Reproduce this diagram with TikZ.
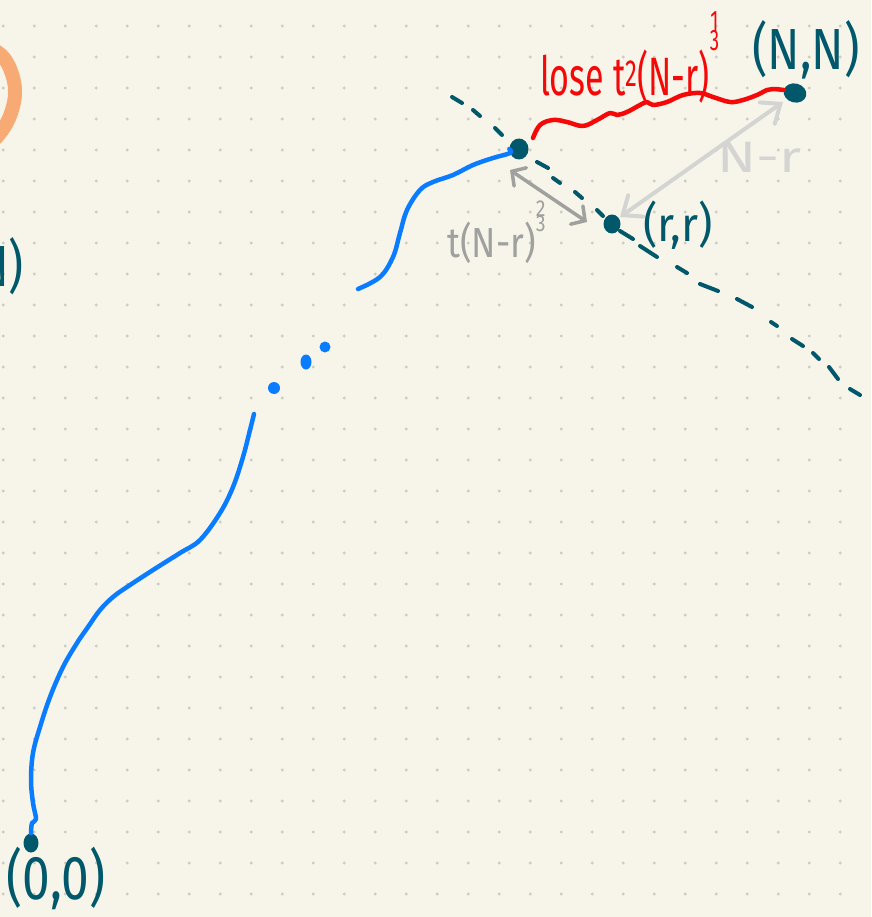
\documentclass[tikz,border=0pt]{standalone}
\usepackage{fontspec}
\setmainfont{Fira Sans}
\usetikzlibrary{arrows.meta,calc,shapes.geometric}
\definecolor{bgc}{RGB}{247,245,233}
\definecolor{gridc}{RGB}{204,203,196}
\definecolor{teal}{RGB}{0,88,106}
\definecolor{pblue}{RGB}{10,124,255}
\definecolor{pred}{RGB}{245,8,8}
\definecolor{lgray}{RGB}{212,212,210}
\definecolor{mgray}{RGB}{160,160,158}
\definecolor{porange}{RGB}{247,170,115}
\newcommand{\expstack}[3]{\raisebox{#1}{\scalebox{0.55}{\shortstack[c]{#2\\[-0.1em]#3}}}}
\tikzset{
  dotnode/.style={ellipse, fill=teal, inner sep=0pt},
  bluepath/.style={pblue, line width=4.5pt, line cap=round, line join=round},
  dashseg/.style={teal, line width=4pt, line cap=round},
  lbl/.style={inner sep=0pt, text=teal},
}
\begin{document}
\begin{tikzpicture}[x=1pt,y=-1pt]
\fill[bgc] (0,0) rectangle (871,917);
\useasboundingbox (0,0) rectangle (871,917);
\clip (0,0) rectangle (871,917);
% dot grid
\foreach \i in {0,...,27}{
  \foreach \j in {0,...,28}{
    \fill[gridc] (3.3+31*\i,26+31*\j) circle[radius=1.6pt];
  }
}
% orange fragment
\draw[porange, line width=14pt, line cap=round] plot[smooth, tension=0.7] coordinates {(-6,50) (4,58) (12,74) (15,92) (12,110) (5,126) (-4,138)};
% left text fragment
\node[lbl, anchor=east, font=\fontsize{58}{62}\selectfont, xscale=0.8] (frag) at (24,266) {N)};
% dashed diagonal
\foreach \a/\b in {{452,97}/{462,103},{473,110}/{480,116},{495,128}/{502,135},{537,162}/{548,168},{553,178}/{560,183},{575,192}/{582,198},{597,210}/{603,216},{620,231}/{633,239},{640,246}/{657,257},{677,267}/{687,273},{700,284}/{718,291},{737,299}/{752,307},{771,322}/{777,326},{792,339}/{803,346},{813,353}/{819,359},{829,367}/{838,379},{850,389}/{860,395}}{
  \draw[dashseg] (\a) -- (\b);
}
% points
\node[dotnode, minimum width=23pt, minimum height=19pt, rotate=-15] (NN) at (795,93) {};
\node[dotnode, minimum width=19pt, minimum height=21pt] (P) at (519,149) {};
\node[dotnode, minimum width=17pt, minimum height=19pt] (R) at (612,224) {};
\node[dotnode, minimum width=15pt, minimum height=19pt] (O) at (31,843) {};
% blue path, upper part
\draw[bluepath] plot[smooth, tension=0.6] coordinates {(358,289) (380,277) (393,257) (400,233) (407,210) (420,190) (433,182) (453,175) (473,165) (493,158) (510,153) (P.west)};
% blue dots
\fill[pblue] (274,388) ellipse[x radius=6pt, y radius=6pt];
\fill[pblue] (306,362) ellipse[x radius=5.5pt, y radius=7.5pt];
\fill[pblue] (325,347) ellipse[x radius=5.5pt, y radius=5.5pt];
% blue path, lower part
\draw[bluepath] plot[smooth, tension=0.6] coordinates {(254,414) (250,430) (243,457) (233,487) (220,513) (200,540) (180,553) (153,570) (127,587) (113,597) (100,610) (88,627) (77,643) (63,667) (50,697) (40,727) (33,753) (31,780) (33,803) (36,819) (32,823) (O.north)};
% red wavy path
\draw[pred, line width=4.5pt, line cap=round, line join=round] plot[smooth, tension=0.6] coordinates {(533,138) (540,125) (553,120) (567,122) (583,126) (597,120) (610,113) (617,115) (627,112) (640,105) (647,102) (653,105) (667,102) (683,95) (700,93) (713,97) (730,102) (743,100) (757,95) (767,90) (773,89) (NN.west)};
% gray arrows
\coordinate (a1) at ($(R)+(8,-7)$);
\coordinate (a2) at ($(NN)+(-12,9)$);
\coordinate (b1) at ($(P)+(-9,21)$);
\coordinate (b2) at ($(R)+(-25,-2)$);
\draw[lgray, line width=4pt, line cap=round, {Straight Barb[length=16pt,width=26pt,line cap=round]}-{Straight Barb[length=16pt,width=26pt,line cap=round]}] (a1) -- (a2);
\draw[mgray, line width=3.5pt, line cap=round, {Straight Barb[length=10pt,width=22pt,line cap=round]}-{Straight Barb[length=10pt,width=22pt,line cap=round]}] (b1) -- (b2);
% labels
\node[lbl, font=\fontsize{58}{62}\selectfont, xscale=0.82] (NNlbl) at (806,50) {(N,N)};
\node[lbl, font=\fontsize{48}{52}\selectfont, xscale=0.92] (Rlbl) at (678,225) {(r,r)};
\node[lbl, font=\fontsize{62}{66}\selectfont, xscale=0.8] (Olbl) at (56,878) {(0,0)};
\node[lbl, text=pred, anchor=base west, font=\fontsize{54}{58}\selectfont, xscale=0.63] (lose) at (540,96) {lose t\textsuperscript{2}(N-r)\expstack{0.85em}{1}{3}};
\node[lbl, text=lgray, anchor=base west, font=\fontsize{44}{48}\selectfont, xscale=1.3] (Nr) at (717,173) {N-r};
\node[lbl, text=mgray, anchor=base west, font=\fontsize{42}{46}\selectfont, xscale=0.85] (tN) at (447,257) {t(N-r)\expstack{0.6em}{2}{3}};
\end{tikzpicture}
\end{document}
